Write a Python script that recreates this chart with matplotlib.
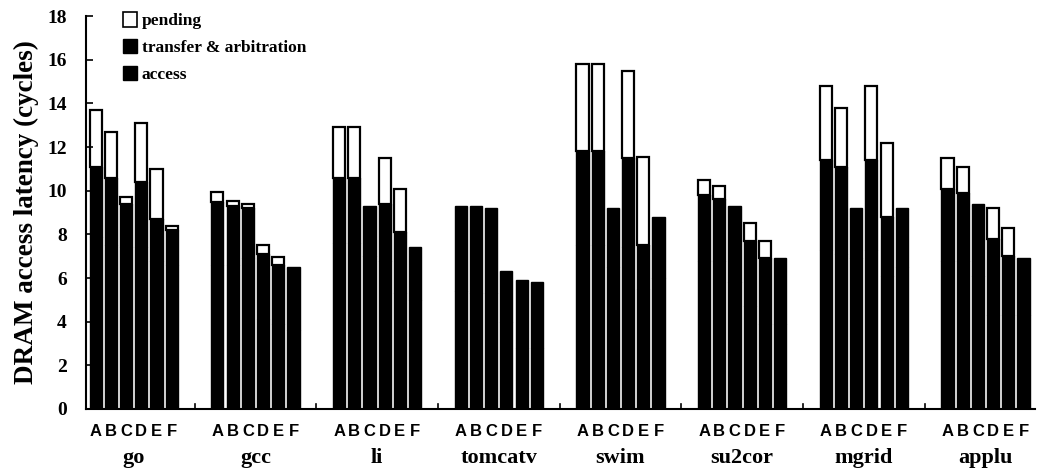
import numpy as np
import matplotlib
matplotlib.use("Agg")
import matplotlib.pyplot as plt
from matplotlib.patches import Patch

# benchmarks and configurations
benchmarks = ['go', 'gcc', 'li', 'tomcatv', 'swim', 'su2cor', 'mgrid', 'applu']
configs = ['A', 'B', 'C', 'D', 'E', 'F']

# latency components (cycles), one row per benchmark, one column per config
access = [
    [7.9, 7.5, 7.4, 7.4, 6.8, 6.6],
    [6.6, 6.6, 6.9, 4.1, 3.9, 3.6],
    [7.6, 7.6, 7.0, 6.8, 5.3, 5.0],
    [5.4, 5.3, 5.3, 4.0, 2.8, 2.8],
    [7.5, 7.5, 6.5, 7.4, 5.5, 6.0],
    [6.8, 6.8, 5.8, 4.7, 3.9, 3.9],
    [7.3, 7.1, 6.9, 7.3, 6.1, 6.5],
    [6.8, 6.8, 6.1, 4.3, 4.3, 4.3],
]
transfer = [
    [3.2, 3.1, 2.0, 3.0, 1.9, 1.6],
    [2.9, 2.7, 2.3, 3.0, 2.7, 2.9],
    [3.0, 3.0, 2.3, 2.6, 2.8, 2.4],
    [3.9, 4.0, 3.9, 2.3, 3.1, 3.0],
    [4.3, 4.3, 2.7, 4.1, 2.0, 2.8],
    [3.0, 2.8, 3.5, 3.0, 3.0, 3.0],
    [4.1, 4.0, 2.3, 4.1, 2.7, 2.7],
    [3.3, 3.1, 3.3, 3.5, 2.7, 2.6],
]
pending = [
    [2.6, 2.1, 0.3, 2.7, 2.3, 0.2],
    [0.45, 0.25, 0.2, 0.4, 0.35, 0.0],
    [2.3, 2.3, 0.0, 2.1, 2.0, 0.0],
    [0.0, 0.0, 0.0, 0.0, 0.0, 0.0],
    [4.0, 4.0, 0.0, 4.0, 4.05, 0.0],
    [0.7, 0.6, 0.0, 0.8, 0.8, 0.0],
    [3.4, 2.7, 0.0, 3.4, 3.4, 0.0],
    [1.4, 1.2, 0.0, 1.4, 1.3, 0.0],
]

serif = 'Liberation Serif'
sans = 'Liberation Sans'

fig = plt.figure(figsize=(10.38, 4.75), dpi=100)
ax = fig.add_axes([0.083, 0.139, 0.914, 0.827])

n_cfg = len(configs)
pitch = n_cfg + 2
width = 0.8
acc = np.array(access)
tr = np.array(transfer)
pe = np.array(pending)

xs_all = []
for i, name in enumerate(benchmarks):
    x = i * pitch + np.arange(n_cfg)
    xs_all.extend(x)
    ax.bar(x, acc[i], width, color='black', edgecolor='black', linewidth=1.0)
    ax.bar(x, tr[i], width, bottom=acc[i], color='black', edgecolor='black', linewidth=1.0)
    mask = pe[i] > 0
    ax.bar(x[mask], pe[i][mask], width, bottom=(acc[i] + tr[i])[mask],
           color='white', edgecolor='black', linewidth=1.6)
    ax.text(x.mean(), -2.25, name, ha='center', va='center',
            fontsize=16, fontweight='bold', family=serif)

ax.set_xlim(-0.63, (len(benchmarks) - 1) * pitch + n_cfg - 1 + 0.75)
ax.set_ylim(0, 18)
ax.set_yticks(np.arange(0, 19, 2))
ax.set_xticks(xs_all)
ax.set_xticklabels(configs * len(benchmarks), fontsize=12, fontweight='bold', family=sans)
ax.tick_params(axis='x', length=0, pad=11)
ax.tick_params(axis='y', direction='in', length=5, width=1.2, pad=14, labelsize=14)
for lab in ax.get_yticklabels():
    lab.set_fontweight('bold')
    lab.set_family(serif)

# small separators between groups
sep = [i * pitch + n_cfg - 0.5 + 1 for i in range(len(benchmarks) - 1)]
for s in sep:
    ax.plot([s, s], [0, 0.25], color='black', lw=1.2)

for side in ['top', 'right']:
    ax.spines[side].set_visible(False)
ax.spines['left'].set_linewidth(1.5)
ax.spines['bottom'].set_linewidth(1.5)

ax.set_ylabel('DRAM access latency (cycles)', fontsize=19.5, fontweight='bold',
              family=serif, labelpad=6)

handles = [Patch(facecolor='white', edgecolor='black', linewidth=1.2),
           Patch(facecolor='black', edgecolor='black'),
           Patch(facecolor='black', edgecolor='black')]
labels = ['pending', 'transfer & arbitration', 'access']
ax.legend(handles, labels, loc='upper left', bbox_to_anchor=(0.022, 1.05), frameon=False,
          prop={'family': serif, 'weight': 'bold', 'size': 12.5},
          handlelength=0.8, handleheight=0.9, handletextpad=0.3, labelspacing=0.55)

fig.savefig('out.png', dpi=100)
